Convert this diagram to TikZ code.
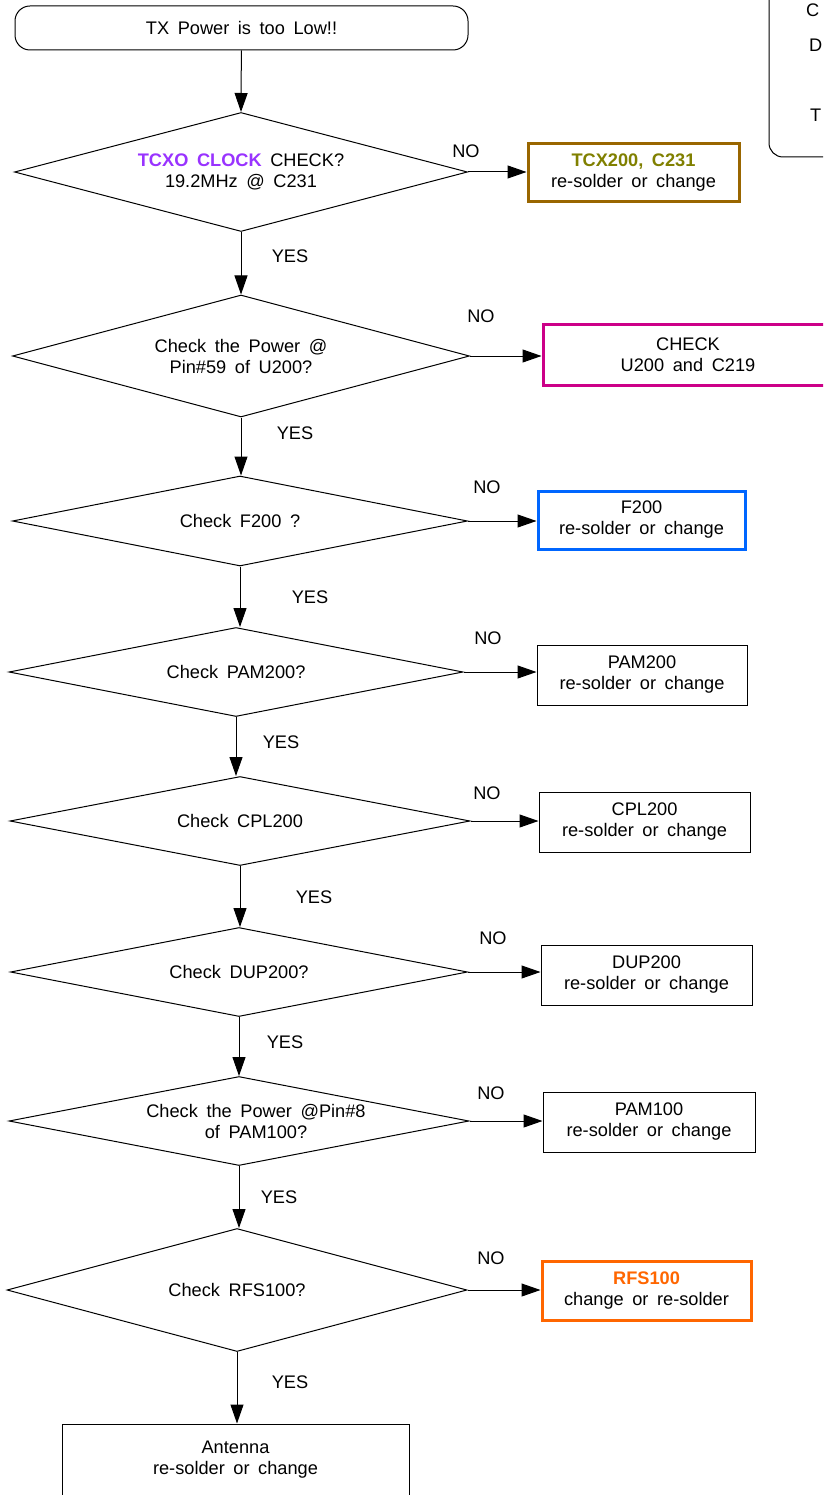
\documentclass[tikz,border=0pt]{standalone}
\usepackage{fontspec}
\setmainfont{Liberation Sans}[WordSpace=1.7]
\usepackage{tikz}
\usetikzlibrary{shapes.geometric,arrows.meta,positioning}
\definecolor{tcxopurple}{RGB}{153,51,255}
\definecolor{tcxolive}{RGB}{128,128,0}
\definecolor{tcxbrown}{RGB}{153,102,0}
\definecolor{chkmagenta}{RGB}{204,0,136}
\definecolor{fltblue}{RGB}{0,102,255}
\definecolor{rfsorange}{RGB}{255,102,0}

\begin{document}
\begin{tikzpicture}[x=1pt,y=-1pt,
  every node/.style={font=\fontsize{18.2}{21}\selectfont},
  start/.style={draw,line width=1pt,rounded corners=15pt,minimum width=453pt,minimum height=44pt},
  decision/.style={draw,diamond,line width=1pt,inner sep=0pt,align=center,aspect=4},
  fixbox/.style={draw,line width=1pt,align=center,minimum width=211pt,minimum height=60pt},
  hotbox/.style={fixbox,line width=3pt},
  flow/.style={-{Triangle[length=19pt,width=13pt]},line width=1pt},
  lbl/.style={inner sep=0pt},
]
  \clip (0,0) rectangle (823,1495);
  \useasboundingbox (0,0) rectangle (823,1495);
  \fill[white] (0,0) rectangle (823,1495);

  % partly hidden note at the top right
  \draw[line width=1pt,rounded corners=14pt] (769,-30) -- (769,157) -- (860,157);
  \node[lbl,anchor=west] (noteC) at (806,10) {C};
  \node[lbl,anchor=west] (noteD) at (809,45) {D};
  \node[lbl,anchor=west] (noteT) at (810,115) {T};

  \node[start] (low) at (241.5,28) {TX Power is too Low!!};

  % decisions
  \node[decision,minimum width=453pt,minimum height=119pt] (tcxo) at (241,172)
    {\textcolor{tcxopurple}{\bfseries TCXO CLOCK} CHECK?\\19.2MHz @ C231};
  \node[decision,minimum width=457pt,minimum height=122pt] (pin59) at (241,356)
    {Check the Power @\\Pin\#59 of U200?};
  \node[decision,minimum width=455pt,minimum height=90pt] (f200) at (240,521) {Check F200 ?};
  \node[decision,minimum width=454pt,minimum height=89pt] (pam200) at (236,672) {Check PAM200?};
  \node[decision,minimum width=460pt,minimum height=89pt] (cpl200) at (240,821) {Check CPL200};
  \node[decision,minimum width=457pt,minimum height=89pt] (dup200) at (239,972) {Check DUP200?};
  \node[decision,minimum width=460pt,minimum height=89pt,
    label={[align=center,xshift=17pt]center:Check the Power @Pin\#8\\of PAM100?}] (pin8) at (239,1121) {};
  \node[decision,minimum width=460pt,minimum height=123pt] (rfs100) at (237,1290) {Check RFS100?};

  % repair boxes
  \node[hotbox,draw=tcxbrown,minimum width=211pt,minimum height=58pt] (fixtcx) at (633.5,173)
    {\textcolor{tcxolive}{\bfseries TCX200, C231}\\re-solder or change};
  \node[hotbox,draw=chkmagenta,minimum width=290pt,minimum height=61pt] (fixu200) at (688,355)
    {CHECK\\U200 and C219};
  \node[hotbox,draw=fltblue,minimum width=207pt,minimum height=58pt] (fixf200) at (641.5,520)
    {F200\\re-solder or change};
  \node[fixbox,minimum width=210pt] (fixpam200) at (642,675) {PAM200\\re-solder or change};
  \node[fixbox] (fixcpl) at (644.5,822) {CPL200\\re-solder or change};
  \node[fixbox] (fixdup) at (646.5,975) {DUP200\\re-solder or change};
  \node[fixbox,minimum width=212pt] (fixpam100) at (649,1122) {PAM100\\re-solder or change};
  \node[hotbox,draw=rfsorange,minimum width=209pt,minimum height=59pt] (fixrfs) at (646.5,1290.5)
    {\textcolor{rfsorange}{\bfseries RFS100}\\change or re-solder};
  \node[fixbox,minimum width=347pt,minimum height=72pt] (fixant) at (235.5,1460)
    {Antenna\\re-solder or change};

  % YES path
  \draw[flow] (low) -- (tcxo.north);
  \draw[flow] (tcxo.south) -- (tcxo.south |- pin59.north);
  \draw[flow] (pin59.south) -- (pin59.south |- f200.north);
  \draw[flow] (f200.south) -- (f200.south |- pam200.north);
  \draw[flow] (pam200.south) -- (pam200.south |- cpl200.north);
  \draw[flow] (cpl200.south) -- (cpl200.south |- dup200.north);
  \draw[flow] (dup200.south) -- (dup200.south |- pin8.north);
  \draw[flow] (pin8.south) -- (pin8.south |- rfs100.north);
  \draw[flow] (rfs100.south) -- (rfs100.south |- fixant.north);

  % NO path
  \draw[flow] (tcxo.east) -- (tcxo.east -| fixtcx.west);
  \draw[flow] (pin59.east) -- (pin59.east -| fixu200.west);
  \draw[flow] (f200.east) -- (f200.east -| fixf200.west);
  \draw[flow] (pam200.east) -- (pam200.east -| fixpam200.west);
  \draw[flow] (cpl200.east) -- (cpl200.east -| fixcpl.west);
  \draw[flow] (dup200.east) -- (dup200.east -| fixdup.west);
  \draw[flow] (pin8.east) -- (pin8.east -| fixpam100.west);
  \draw[flow] (rfs100.east) -- (rfs100.east -| fixrfs.west);

  \node[lbl] (yes1) at (290,256) {YES};
  \node[lbl] (yes2) at (295,433) {YES};
  \node[lbl] (yes3) at (310,597) {YES};
  \node[lbl] (yes4) at (281,742) {YES};
  \node[lbl] (yes5) at (314,897) {YES};
  \node[lbl] (yes6) at (285,1042) {YES};
  \node[lbl] (yes7) at (279,1197) {YES};
  \node[lbl] (yes8) at (290,1382) {YES};

  \node[lbl] (no1) at (466,151) {NO};
  \node[lbl] (no2) at (481,316) {NO};
  \node[lbl] (no3) at (487,487) {NO};
  \node[lbl] (no4) at (488,638) {NO};
  \node[lbl] (no5) at (487,793) {NO};
  \node[lbl] (no6) at (493,938) {NO};
  \node[lbl] (no7) at (491,1093) {NO};
  \node[lbl] (no8) at (491,1258) {NO};
\end{tikzpicture}
\end{document}
